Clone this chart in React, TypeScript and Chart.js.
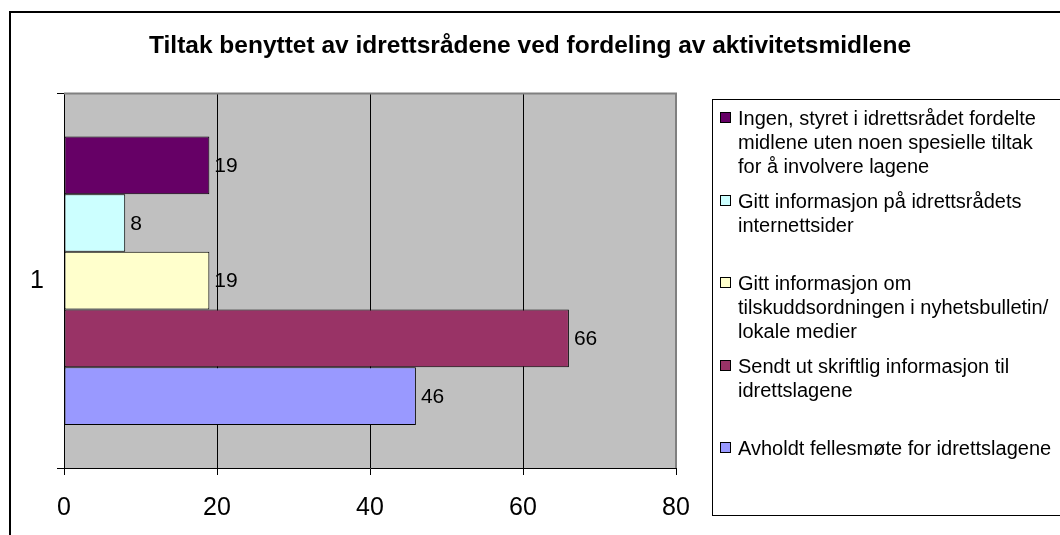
import React, { useEffect, useRef } from 'react';
import { Chart, registerables } from 'chart.js';

Chart.register(...registerables);

const FONT = "'Liberation Sans', Arial, Helvetica, sans-serif";

const titleText = 'Tiltak benyttet av idrettsrådene ved fordeling av aktivitetsmidlene';
const categories = ['1'];
const seriesNames = [
  'Ingen, styret i idrettsrådet fordelte\nmidlene uten noen spesielle tiltak\nfor å involvere lagene',
  'Gitt informasjon på idrettsrådets\ninternettsider',
  'Gitt informasjon om\ntilskuddsordningen i nyhetsbulletin/\nlokale medier',
  'Sendt ut skriftlig informasjon til\nidrettslagene',
  'Avholdt fellesmøte for idrettslagene',
];
const seriesValues = [19, 8, 19, 66, 46];
const seriesColors = ['#660066', '#CCFFFF', '#FFFFCC', '#993366', '#9999FF'];
const xMin = 0;
const xMax = 80;
const xStep = 20;

const backgroundPlugin = {
  id: 'bgPlot',
  beforeDraw(chart: any) {
    const { ctx, chartArea } = chart;
    ctx.save();
    ctx.fillStyle = '#FFFFFF';
    ctx.fillRect(0, 0, chart.width, chart.height);
    ctx.fillStyle = '#C0C0C0';
    ctx.fillRect(chartArea.left, chartArea.top, chartArea.right - chartArea.left, chartArea.bottom - chartArea.top);
    ctx.restore();
  },
};

const valueLabelPlugin = {
  id: 'valueLabels',
  afterDatasetsDraw(chart: any) {
    const { ctx } = chart;
    ctx.save();
    ctx.font = `21px ${FONT}`;
    ctx.fillStyle = '#000';
    ctx.textAlign = 'left';
    ctx.textBaseline = 'middle';
    chart.data.datasets.forEach((ds: any, i: number) => {
      const meta = chart.getDatasetMeta(i);
      meta.data.forEach((bar: any, j: number) => {
        ctx.fillText(String(ds.data[j]), bar.x + 5, bar.y + 1);
      });
    });
    ctx.restore();
  },
};

const framePlugin = {
  id: 'frames',
  afterDraw(chart: any) {
    const { ctx, chartArea } = chart;
    ctx.save();
    // plot area gray edge (top & right)
    ctx.strokeStyle = '#808080';
    ctx.lineWidth = 2;
    ctx.beginPath();
    ctx.moveTo(chartArea.left, chartArea.top);
    ctx.lineTo(chartArea.right, chartArea.top);
    ctx.lineTo(chartArea.right, chartArea.bottom);
    ctx.stroke();

    // outer chart border
    ctx.strokeStyle = '#000';
    ctx.lineWidth = 2;
    ctx.strokeRect(10, 12, 1200, 700);

    // legend box
    ctx.lineWidth = 1;
    ctx.strokeRect(712.5, 99.5, 500, 416);

    ctx.font = `20px ${FONT}`;
    ctx.textAlign = 'left';
    ctx.textBaseline = 'alphabetic';
    chart.data.datasets.forEach((ds: any, i: number) => {
      const baseY = 125 + i * 82.5;
      const top = Math.round(baseY - 13);
      ctx.fillStyle = ds.backgroundColor;
      ctx.fillRect(720, top, 11, 11);
      ctx.strokeStyle = '#000';
      ctx.lineWidth = 1;
      ctx.strokeRect(720.5, top + 0.5, 10, 10);
      ctx.fillStyle = '#000';
      String(ds.label).split('\n').forEach((line: string, k: number) => {
        ctx.fillText(line, 738, baseY + k * 24);
      });
    });
    ctx.restore();
  },
};

export default function App() {
  const canvasRef = useRef<HTMLCanvasElement>(null);

  useEffect(() => {
    const canvas = canvasRef.current;
    if (!canvas) return;
    const chart = new Chart(canvas, {
      type: 'bar',
      data: {
        labels: categories,
        datasets: seriesNames.map((name, i) => ({
          label: name,
          data: [seriesValues[i]],
          backgroundColor: seriesColors[i],
          borderColor: '#000',
          borderWidth: 1,
          borderSkipped: false,
          categoryPercentage: 0.77,
          barPercentage: 1,
        })),
      },
      options: {
        indexAxis: 'y',
        animation: false,
        responsive: false,
        maintainAspectRatio: false,
        devicePixelRatio: 1,
        layout: { padding: 0 },
        events: [],
        plugins: {
          legend: { display: false },
          tooltip: { enabled: false },
          title: {
            display: true,
            text: titleText,
            color: '#000',
            font: { family: FONT, size: 24.5, weight: 'bold' },
            padding: { top: 32, bottom: 32 },
          },
        },
        scales: {
          x: {
            type: 'linear',
            position: 'bottom',
            min: xMin,
            max: xMax,
            ticks: {
              stepSize: xStep,
              color: '#000',
              font: { family: FONT, size: 25 },
              padding: 18,
            },
            grid: { color: '#000', lineWidth: 1, tickLength: 7, drawOnChartArea: true },
            border: { color: '#000', width: 1 },
            afterFit: (s: any) => {
              s.height = 67;
            },
          },
          y: {
            type: 'category',
            position: 'left',
            offset: true,
            ticks: {
              color: '#000',
              font: { family: FONT, size: 25 },
              padding: 13,
            },
            grid: { offset: true, color: '#000', lineWidth: 1, tickLength: 7, drawOnChartArea: false },
            border: { color: '#000', width: 1 },
            afterFit: (s: any) => {
              s.width = 64;
            },
          },
          y2: {
            type: 'category',
            position: 'right',
            display: true,
            ticks: { display: false },
            grid: { display: false },
            border: { display: false },
            afterFit: (s: any) => {
              s.width = 384;
            },
          },
        },
      },
      plugins: [backgroundPlugin, valueLabelPlugin, framePlugin],
    } as any);
    return () => chart.destroy();
  }, []);

  return (
    <div style={{ position: 'absolute', left: 0, top: 0, width: 1060, height: 535 }}>
      <canvas ref={canvasRef} width={1060} height={535} style={{ display: 'block', width: 1060, height: 535 }} />
    </div>
  );
}
